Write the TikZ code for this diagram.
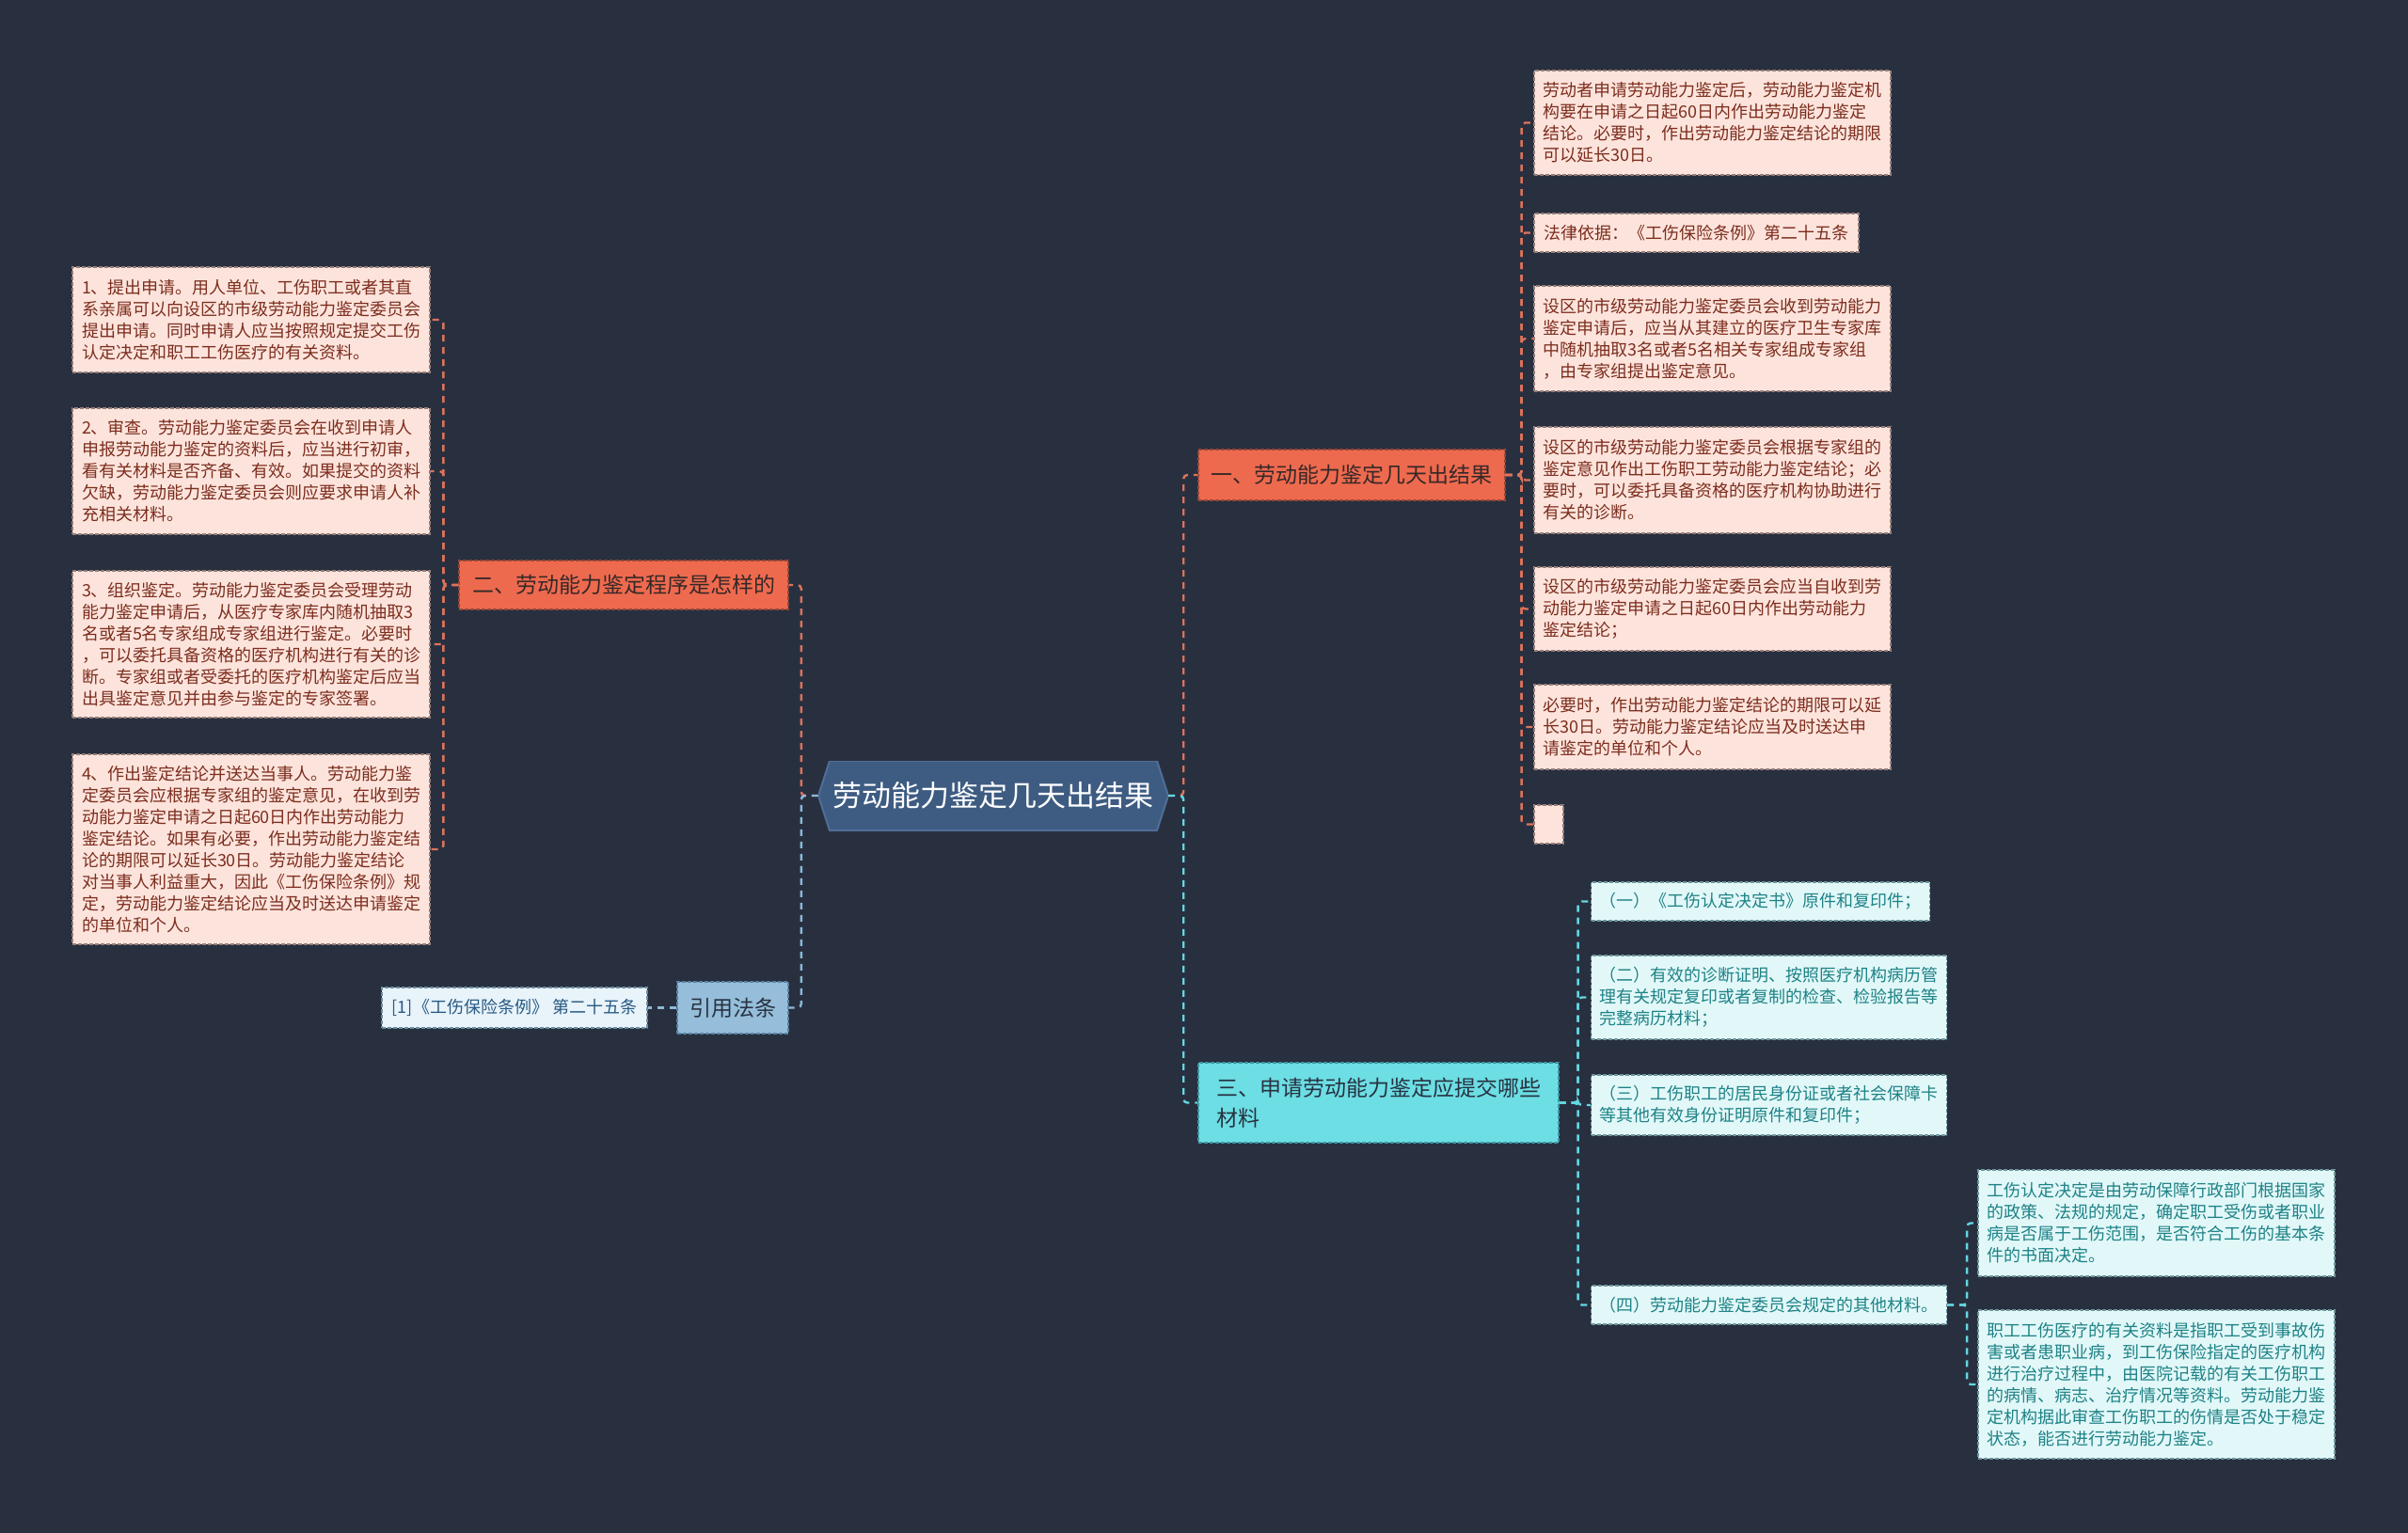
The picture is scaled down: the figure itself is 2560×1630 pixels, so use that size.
\documentclass[tikz,border=0pt]{standalone}
\usepackage{fontspec}
\setmainfont{Noto Sans CJK SC}
\definecolor{bgc}{RGB}{40,48,64}
\definecolor{hexfill}{RGB}{62,92,130}
\definecolor{hexline}{RGB}{80,110,150}
\definecolor{orfill}{RGB}{238,106,78}
\definecolor{ortext}{RGB}{55,40,40}
\definecolor{pkfill}{RGB}{252,228,220}
\definecolor{pktext}{RGB}{125,45,30}
\definecolor{pkline}{RGB}{150,125,120}
\definecolor{orline}{RGB}{150,70,55}
\definecolor{orconn}{RGB}{220,115,90}
\definecolor{cyfill}{RGB}{108,222,228}
\definecolor{cytext}{RGB}{40,50,65}
\definecolor{cyline}{RGB}{60,150,160}
\definecolor{lcfill}{RGB}{226,248,248}
\definecolor{lctext}{RGB}{30,130,135}
\definecolor{lcline}{RGB}{110,150,155}
\definecolor{cyconn}{RGB}{100,215,225}
\definecolor{blfill}{RGB}{150,190,218}
\definecolor{bltext}{RGB}{40,50,65}
\definecolor{blline}{RGB}{90,130,160}
\definecolor{lbfill}{RGB}{232,243,250}
\definecolor{lbtext}{RGB}{40,90,130}
\definecolor{lbline}{RGB}{110,140,160}
\definecolor{blconn}{RGB}{140,185,215}
\tikzset{
  box/.style={rectangle, align=left, inner xsep=9pt, inner ysep=6pt, line width=1.2pt, dash pattern=on 4pt off 2pt},
  small/.style={font=\fontsize{18}{23}\selectfont},
  big/.style={font=\fontsize{23}{32}\selectfont},
  pinkbox/.style={box, small, fill=pkfill, draw=pkline, text=pktext},
  orbranch/.style={box, big, fill=orfill, draw=orline, text=ortext},
  cybranch/.style={box, big, fill=cyfill, draw=cyline, text=cytext},
  cybox/.style={box, small, fill=lcfill, draw=lcline, text=lctext},
  blbranch/.style={box, big, fill=blfill, draw=blline, text=bltext},
  lbbox/.style={box, small, fill=lbfill, draw=lbline, text=lbtext},
  conn/.style={line width=2.4pt, dash pattern=on 7pt off 6pt, rounded corners=4pt},
  oconn/.style={conn, draw=orconn},
  cconn/.style={conn, draw=cyconn},
  bconn/.style={conn, draw=blconn},
  hexnode/.style={rectangle, minimum width=372pt, minimum height=74pt, text=white,
    font=\fontsize{31}{38}\selectfont,
    path picture={
      \fill[hexfill, draw=hexline, line width=2pt] (path picture bounding box.west)
        -- ([xshift=12pt]path picture bounding box.north west)
        -- ([xshift=-12pt]path picture bounding box.north east)
        -- (path picture bounding box.east)
        -- ([xshift=-12pt]path picture bounding box.south east)
        -- ([xshift=12pt]path picture bounding box.south west) -- cycle;}}
}
\begin{document}
\begin{tikzpicture}[x=1pt,y=-1pt]
\useasboundingbox (0,0) rectangle (2560,1630);
\fill[bgc] (0,0) rectangle (2560,1630);

% center
\node[hexnode] (c) at (1056,846) {劳动能力鉴定几天出结果};

% branch 1 (right, orange)
\node[orbranch, minimum width=326pt, minimum height=54pt] (b1) at (1437,505) {一、劳动能力鉴定几天出结果};
\node[pinkbox, minimum width=379pt, minimum height=111pt] (r1) at (1820.5,130.5) {劳动者申请劳动能力鉴定后，劳动能力鉴定机\\构要在申请之日起60日内作出劳动能力鉴定\\结论。必要时，作出劳动能力鉴定结论的期限\\可以延长30日。};
\node[pinkbox, minimum width=345pt, minimum height=41pt] (r2) at (1803.5,247.5) {法律依据：《工伤保险条例》第二十五条};
\node[pinkbox, minimum width=379pt, minimum height=112pt] (r3) at (1820.5,360) {设区的市级劳动能力鉴定委员会收到劳动能力\\鉴定申请后，应当从其建立的医疗卫生专家库\\中随机抽取3名或者5名相关专家组成专家组\\，由专家组提出鉴定意见。};
\node[pinkbox, minimum width=379pt, minimum height=113pt] (r4) at (1820.5,510.5) {设区的市级劳动能力鉴定委员会根据专家组的\\鉴定意见作出工伤职工劳动能力鉴定结论；必\\要时，可以委托具备资格的医疗机构协助进行\\有关的诊断。};
\node[pinkbox, minimum width=379pt, minimum height=89pt] (r5) at (1820.5,647.5) {设区的市级劳动能力鉴定委员会应当自收到劳\\动能力鉴定申请之日起60日内作出劳动能力\\鉴定结论；};
\node[pinkbox, minimum width=379pt, minimum height=90pt] (r6) at (1820.5,773) {必要时，作出劳动能力鉴定结论的期限可以延\\长30日。劳动能力鉴定结论应当及时送达申\\请鉴定的单位和个人。};
\node[pinkbox, inner sep=0pt, minimum width=31pt, minimum height=41pt] (r7) at (1646.5,876.5) {};

% branch 2 (left, orange)
\node[orbranch, minimum width=350pt, minimum height=52pt] (b2) at (663,622) {二、劳动能力鉴定程序是怎样的};
\node[pinkbox, minimum width=380pt, minimum height=112pt] (l1) at (267,340) {1、提出申请。用人单位、工伤职工或者其直\\系亲属可以向设区的市级劳动能力鉴定委员会\\提出申请。同时申请人应当按照规定提交工伤\\认定决定和职工工伤医疗的有关资料。};
\node[pinkbox, minimum width=380pt, minimum height=134pt] (l2) at (267,501) {2、审查。劳动能力鉴定委员会在收到申请人\\申报劳动能力鉴定的资料后，应当进行初审，\\看有关材料是否齐备、有效。如果提交的资料\\欠缺，劳动能力鉴定委员会则应要求申请人补\\充相关材料。};
\node[pinkbox, minimum width=380pt, minimum height=156pt] (l3) at (267,685) {3、组织鉴定。劳动能力鉴定委员会受理劳动\\能力鉴定申请后，从医疗专家库内随机抽取3\\名或者5名专家组成专家组进行鉴定。必要时\\，可以委托具备资格的医疗机构进行有关的诊\\断。专家组或者受委托的医疗机构鉴定后应当\\出具鉴定意见并由参与鉴定的专家签署。};
\node[pinkbox, minimum width=380pt, minimum height=202pt] (l4) at (267,903) {4、作出鉴定结论并送达当事人。劳动能力鉴\\定委员会应根据专家组的鉴定意见，在收到劳\\动能力鉴定申请之日起60日内作出劳动能力\\鉴定结论。如果有必要，作出劳动能力鉴定结\\论的期限可以延长30日。劳动能力鉴定结论\\对当事人利益重大，因此《工伤保险条例》规\\定，劳动能力鉴定结论应当及时送达申请鉴定\\的单位和个人。};

% citation branch
\node[blbranch, minimum width=118pt, minimum height=55pt] (cite) at (779,1071.5) {引用法条};
\node[lbbox, minimum width=282pt, minimum height=43pt] (cite1) at (547,1071.5) {[1]《工伤保险条例》 第二十五条};

% branch 3 (right, cyan)
\node[cybranch, minimum width=383pt, minimum height=85pt] (b3) at (1465.5,1172.5) {三、申请劳动能力鉴定应提交哪些\\材料};
\node[cybox, minimum width=359pt, minimum height=41pt] (k1) at (1871.5,958.5) {（一）《工伤认定决定书》原件和复印件；};
\node[cybox, minimum width=377pt, minimum height=89pt] (k2) at (1880.5,1060.5) {（二）有效的诊断证明、按照医疗机构病历管\\理有关规定复印或者复制的检查、检验报告等\\完整病历材料；};
\node[cybox, minimum width=377pt, minimum height=64pt] (k3) at (1880.5,1175) {（三）工伤职工的居民身份证或者社会保障卡\\等其他有效身份证明原件和复印件；};
\node[cybox, minimum width=377pt, minimum height=41pt] (k4) at (1880.5,1387.5) {（四）劳动能力鉴定委员会规定的其他材料。};
\node[cybox, minimum width=379pt, minimum height=113pt] (s1) at (2292.5,1300.5) {工伤认定决定是由劳动保障行政部门根据国家\\的政策、法规的规定，确定职工受伤或者职业\\病是否属于工伤范围，是否符合工伤的基本条\\件的书面决定。};
\node[cybox, minimum width=379pt, minimum height=158pt] (s2) at (2292.5,1472) {职工工伤医疗的有关资料是指职工受到事故伤\\害或者患职业病，到工伤保险指定的医疗机构\\进行治疗过程中，由医院记载的有关工伤职工\\的病情、病志、治疗情况等资料。劳动能力鉴\\定机构据此审查工伤职工的伤情是否处于稳定\\状态，能否进行劳动能力鉴定。};

% connectors: center
\draw[oconn] (c.east) -- ++(16,0) |- (b1.west);
\draw[cconn] (c.east) -- ++(16,0) |- (b3.west);
\draw[oconn] (c.west) -- ++(-18,0) |- (b2.east);
\draw[bconn] (c.west) -- ++(-18,0) |- (cite.east);
\draw[bconn] (cite.west) -- (cite1.east);

% branch 1 children
\foreach \n in {r1,r2,r3,r4,r5,r6,r7}
  \draw[oconn] (b1.east) -- ++(17,0) |- (\n.west);
% branch 2 children
\foreach \n in {l1,l2,l3,l4}
  \draw[oconn] (b2.west) -- ++(-16,0) |- (\n.east);
% branch 3 children
\foreach \n in {k1,k2,k3,k4}
  \draw[cconn] (b3.east) -- ++(20,0) |- (\n.west);
\foreach \n in {s1,s2}
  \draw[cconn] (k4.east) -- ++(21,0) |- (\n.west);
\end{tikzpicture}
\end{document}
